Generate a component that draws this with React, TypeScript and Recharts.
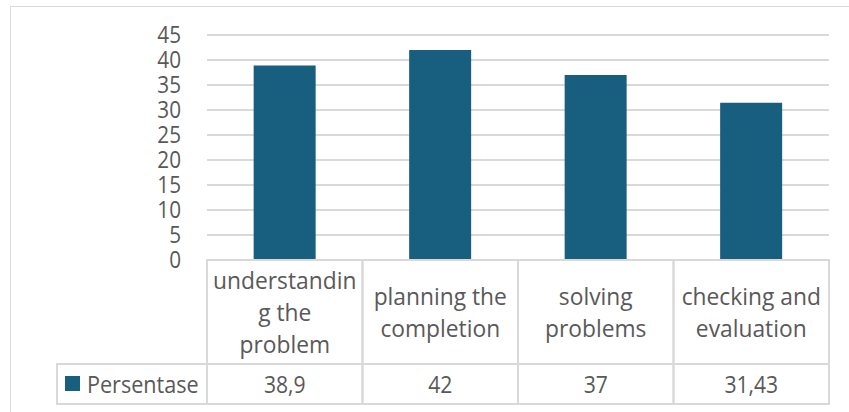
import React from 'react';
import { Bar, BarChart, CartesianGrid, XAxis, YAxis } from 'recharts';

const categories = ['understanding the problem', 'planning the completion', 'solving problems', 'checking and evaluation'];
const categoryLines = [
    ['understandin', 'g the', 'problem'],
    ['planning the', 'completion'],
    ['solving', 'problems'],
    ['checking and', 'evaluation'],
];
const persentase = [38.9, 42, 37, 31.43];
const yTicks = [0, 5, 10, 15, 20, 25, 30, 35, 40, 45];
const seriesName = 'Persentase';

const data = categories.map((name, i) => ({ name, value: persentase[i] }));

const W = 849;
const H = 412;
const PLOT_LEFT = 207;
const PLOT_RIGHT = 829;
const PLOT_TOP = 35;
const PLOT_BOTTOM = 260;
const BAND = (PLOT_RIGHT - PLOT_LEFT) / categories.length;
const ROW1 = 104;
const ROW2 = 40;
const LEGEND_LEFT = 57;

const BAR_COLOR = '#185F7F';
const LINE = '#d9d9d9';
const TEXT = '#595959';
const FONT = '"Open Sans", sans-serif';

// Segoe-like proportions: letters a bit narrower, digits narrower still
const Label = ({ x, y, children, anchor = 'middle', sx = 0.95, fs = 24 }: any) => (
    <text
        transform={`translate(${x},${y}) scale(${sx},1)`}
        textAnchor={anchor}
        fill={TEXT}
        fontSize={fs}
        fontFamily={FONT}
    >
        {children}
    </text>
);

const YTick = ({ x, y, payload }: any) => (
    <Label x={x} y={y + 8} anchor="end" sx={0.9} fs={23}>{payload.value}</Label>
);

const TableTick = ({ x, y, payload, index }: any) => {
    const left = x - BAND / 2;
    const lines = categoryLines[index] || [payload.value];
    const mid1 = y + ROW1 / 2;
    const mid2 = y + ROW1 + ROW2 / 2;
    const value = String(persentase[index]).replace('.', ',');
    return (
        <g>
            <rect x={left} y={y} width={BAND} height={ROW1} fill="none" stroke={LINE} strokeWidth={2} />
            <rect x={left} y={y + ROW1} width={BAND} height={ROW2} fill="none" stroke={LINE} strokeWidth={2} />
            {lines.map((l: string, i: number) => (
                <Label key={i} x={x} y={mid1 + 9 + (i - (lines.length - 1) / 2) * 32}>{l}</Label>
            ))}
            <Label x={x} y={mid2 + 9} sx={0.88}>{value}</Label>
            {index === 0 && (
                <g>
                    <rect x={LEGEND_LEFT} y={y + ROW1} width={left - LEGEND_LEFT} height={ROW2} fill="none" stroke={LINE} strokeWidth={2} />
                    <rect x={65} y={y + ROW1 + 12} width={15} height={15} fill={BAR_COLOR} />
                    <Label x={87} y={mid2 + 9} anchor="start" sx={0.9}>{seriesName}</Label>
                </g>
            )}
        </g>
    );
};

const App = () => {
    return (
        <div style={{ position: 'absolute', left: 0, top: 0, width: W, height: H, overflow: 'hidden', background: '#fff' }}>
            <div style={{ position: 'absolute', left: 10, top: 6, width: 900, height: 500, border: `1.5px solid ${LINE}` }} />
            <div style={{ position: 'absolute', left: 0, top: 0 }}>
                <BarChart
                    width={W}
                    height={H}
                    data={data}
                    margin={{ top: PLOT_TOP, right: W - PLOT_RIGHT, bottom: 0, left: 0 }}
                    barCategoryGap="30%"
                >
                    <CartesianGrid vertical={false} stroke={LINE} strokeWidth={2} />
                    <YAxis
                        width={PLOT_LEFT}
                        domain={[0, 45]}
                        ticks={yTicks}
                        axisLine={false}
                        tickLine={false}
                        tickSize={0}
                        tickMargin={26}
                        tick={<YTick />}
                        interval={0}
                    />
                    <XAxis
                        dataKey="name"
                        height={H - PLOT_BOTTOM}
                        axisLine={false}
                        tickLine={false}
                        tickSize={0}
                        tickMargin={0}
                        tick={<TableTick />}
                        interval={0}
                    />
                    <Bar dataKey="value" name={seriesName} fill={BAR_COLOR} isAnimationActive={false} />
                </BarChart>
            </div>
        </div>
    );
};

export default App;
